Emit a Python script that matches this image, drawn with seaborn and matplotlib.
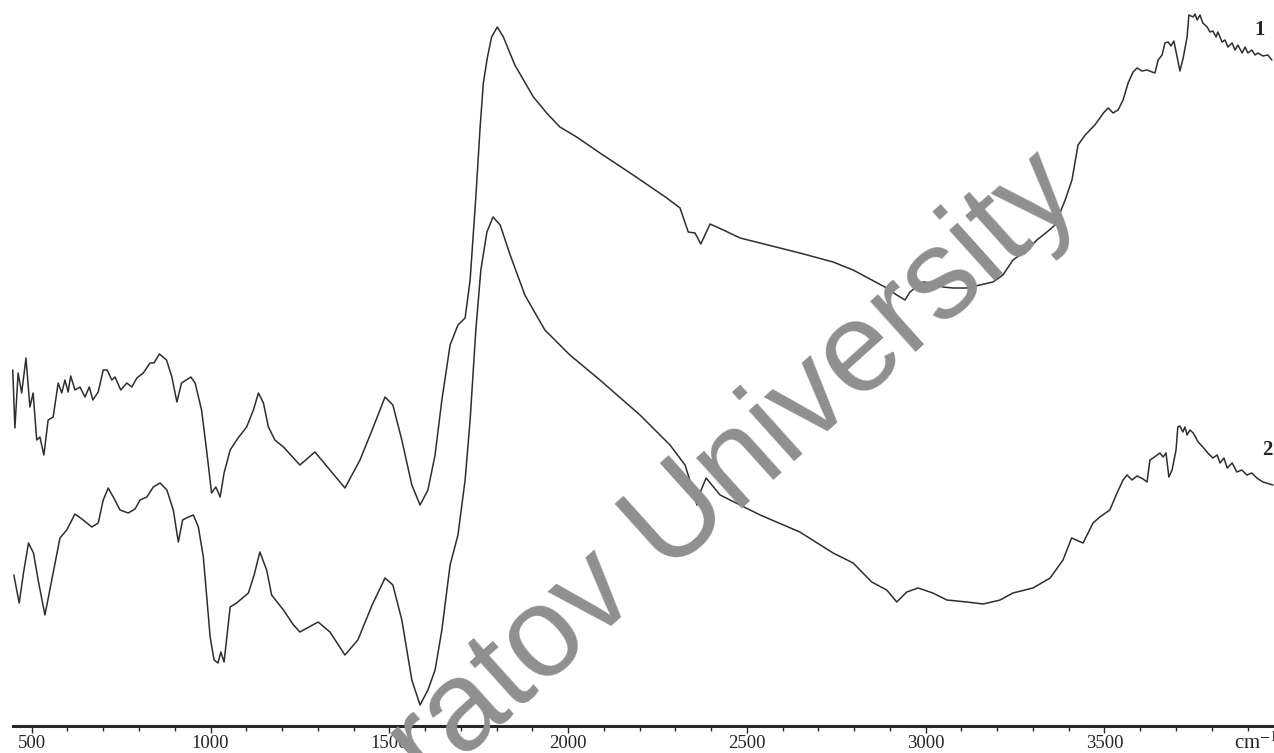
import matplotlib
matplotlib.use("Agg")
import matplotlib.pyplot as plt
import seaborn as sns
import pandas as pd

# IR spectra, wavenumber (cm-1) vs intensity (a.u.)
wn1 = [447, 453, 462, 472, 484, 495, 504, 514, 523, 534, 546, 560, 574, 584, 593, 602, 609, 621, 635, 649,
       661, 671, 686, 700, 711, 724, 733, 749, 766, 780, 794, 812, 831, 842, 857, 877, 892, 906, 919, 945,
       957, 975, 989, 1003, 1015, 1027, 1038, 1055, 1075, 1101, 1120, 1134, 1148, 1162, 1180, 1204, 1232, 1250,
       1292, 1334, 1376, 1418, 1452, 1488, 1510, 1535, 1563, 1586, 1608, 1628, 1647, 1670, 1692, 1712, 1726,
       1742, 1754, 1763, 1774, 1786, 1802, 1819, 1851, 1903, 1940, 1977, 2024, 2089, 2182, 2276, 2313, 2336,
       2355, 2371, 2397, 2434, 2481, 2537, 2648, 2741, 2797, 2849, 2891, 2919, 2942, 2956, 2992, 3020, 3048,
       3076, 3115, 3152, 3188, 3216, 3244, 3283, 3311, 3339, 3362, 3390, 3409, 3426, 3446, 3473, 3497, 3510,
       3524, 3538, 3552, 3566, 3580, 3591, 3605, 3619, 3633, 3641, 3650, 3661, 3669, 3678, 3686, 3694, 3703,
       3711, 3720, 3731, 3736, 3748, 3753, 3759, 3767, 3775, 3787, 3795, 3803, 3812, 3817, 3829, 3837, 3845,
       3857, 3865, 3873, 3885, 3893, 3901, 3912, 3921, 3929, 3943, 3957, 3968]
int1 = [356, 298, 353, 333, 368, 319, 333, 286, 289, 271, 306, 309, 343, 333, 346, 334, 350, 336, 339, 329,
        339, 326, 334, 356, 356, 346, 349, 336, 343, 339, 348, 353, 363, 363, 372, 366, 349, 324, 343, 349,
        343, 316, 276, 233, 239, 229, 253, 276, 287, 299, 316, 333, 323, 299, 286, 279, 268, 261,
        274, 256, 238, 266, 296, 329, 321, 286, 241, 221, 236, 271, 326, 381, 401, 408, 446,
        529, 599, 643, 668, 689, 699, 689, 661, 629, 613, 599, 589, 573, 551, 528, 518, 494,
        493, 482, 502, 496, 488, 483, 473, 464, 456, 446, 438, 431, 426, 434, 444, 443, 439,
        438, 438, 441, 444, 451, 466, 476, 486, 494, 501, 526, 546, 581, 591, 601, 613, 618,
        613, 616, 626, 643, 654, 658, 655, 656, 654, 653, 666, 671, 683, 684, 680, 685, 669,
        655, 668, 689, 711, 709, 712, 706, 711, 703, 699, 694, 695, 689, 694, 684, 686, 679,
        683, 676, 681, 673, 679, 673, 676, 671, 673, 670, 671, 666]

wn2 = [450, 465, 477, 491, 505, 518, 537, 556, 579, 598, 621, 644, 668, 686, 700, 714, 728, 747, 770, 789,
       803, 822, 840, 859, 878, 896, 910, 922, 938, 952, 966, 980, 999, 1010, 1021, 1029, 1038, 1055, 1073,
       1106, 1122, 1138, 1157, 1171, 1204, 1232, 1250, 1301, 1334, 1376, 1412, 1452, 1488, 1510, 1535, 1563,
       1586, 1608, 1628, 1647, 1670, 1692, 1712, 1726, 1742, 1756, 1773, 1790, 1810, 1838, 1879, 1935, 2005,
       2089, 2201, 2285, 2327, 2349, 2360, 2372, 2386, 2402, 2425, 2537, 2648, 2741, 2797, 2849, 2891, 2919,
       2947, 2979, 3020, 3059, 3115, 3161, 3208, 3244, 3300, 3348, 3384, 3408, 3440, 3468, 3487, 3515, 3535,
       3552, 3563, 3577, 3591, 3608, 3619, 3627, 3636, 3647, 3655, 3664, 3672, 3680, 3689, 3700, 3705, 3711,
       3719, 3725, 3731, 3739, 3748, 3762, 3775, 3789, 3803, 3815, 3823, 3834, 3843, 3857, 3870, 3884, 3898,
       3912, 3926, 3943, 3971]
int2 = [151, 123, 153, 183, 173, 146, 111, 146, 188, 196, 212, 206, 199, 203, 226, 238, 229, 216, 213, 217,
        226, 229, 239, 243, 236, 216, 184, 206, 209, 211, 199, 169, 89, 66, 63, 74, 64, 119, 123,
        133, 151, 174, 156, 131, 116, 101, 94, 104, 94, 71, 86, 121, 148, 141, 106, 46,
        21, 36, 56, 96, 161, 191, 246, 306, 396, 456, 494, 509, 501, 471, 431, 396, 371,
        346, 311, 281, 261, 236, 221, 236, 248, 241, 231, 211, 194, 173, 163, 144, 136, 124,
        134, 138, 133, 126, 124, 122, 126, 133, 138, 148, 166, 188, 183, 203, 209, 216, 233,
        246, 251, 246, 250, 247, 244, 266, 268, 271, 273, 269, 273, 249, 256, 276, 299, 300,
        294, 299, 291, 296, 293, 284, 279, 273, 268, 271, 263, 268, 258, 263, 254, 256, 251,
        253, 248, 244, 241]

major_ticks = [500, 1000, 1500, 2000, 2500, 3000, 3500]

df1 = pd.DataFrame({"wn": wn1, "I": int1})
df2 = pd.DataFrame({"wn": wn2, "I": int2})

sns.set_style("ticks")
plt.rcParams["font.family"] = ["Liberation Serif", "DejaVu Serif"]
plt.rcParams["mathtext.fontset"] = "stix"

fig = plt.figure(figsize=(12.74, 7.53), dpi=100)
ax = fig.add_axes([0, 27 / 753, 1, 1 - 27 / 753])

# watermark
fig.text(314 / 1274, 1 - 894 / 753, "Saratov University", rotation=42, rotation_mode="anchor",
         ha="left", va="baseline", fontsize=92, color="#8f8f8f", family="Liberation Sans", zorder=0)

sns.lineplot(data=df1, x="wn", y="I", ax=ax, color="#2e2e2e", lw=1.1, estimator=None)
sns.lineplot(data=df2, x="wn", y="I", ax=ax, color="#2e2e2e", lw=1.1, estimator=None)

ax.set_xlim(411.35, 3974)
ax.set_ylim(0, 726)
ax.patch.set_alpha(0)
for s in ["top", "left", "right"]:
    ax.spines[s].set_visible(False)
ax.spines["bottom"].set_linewidth(2.2)
ax.spines["bottom"].set_bounds(447, 3974)
ax.set_yticks([])
ax.set_xticks(major_ticks)
ax.set_xticks(range(500, 3901, 100), minor=True)
ax.tick_params(axis="x", which="major", length=5, width=1, labelsize=13.5, pad=1.5, direction="out")
ax.tick_params(axis="x", which="minor", length=3.5, width=1, direction="out")
ax.set_xlabel("")
ax.set_ylabel("")

ax.text(3935, 696, "1", fontsize=15, fontweight="bold", ha="center", va="center")
ax.text(3954, 276, "2", fontsize=15, fontweight="bold", ha="center", va="center")
fig.text(1234 / 1274, 1 - 749 / 753, "cm$^{-1}$", fontsize=15, ha="left", va="baseline")

fig.savefig("out.png", dpi=100)
